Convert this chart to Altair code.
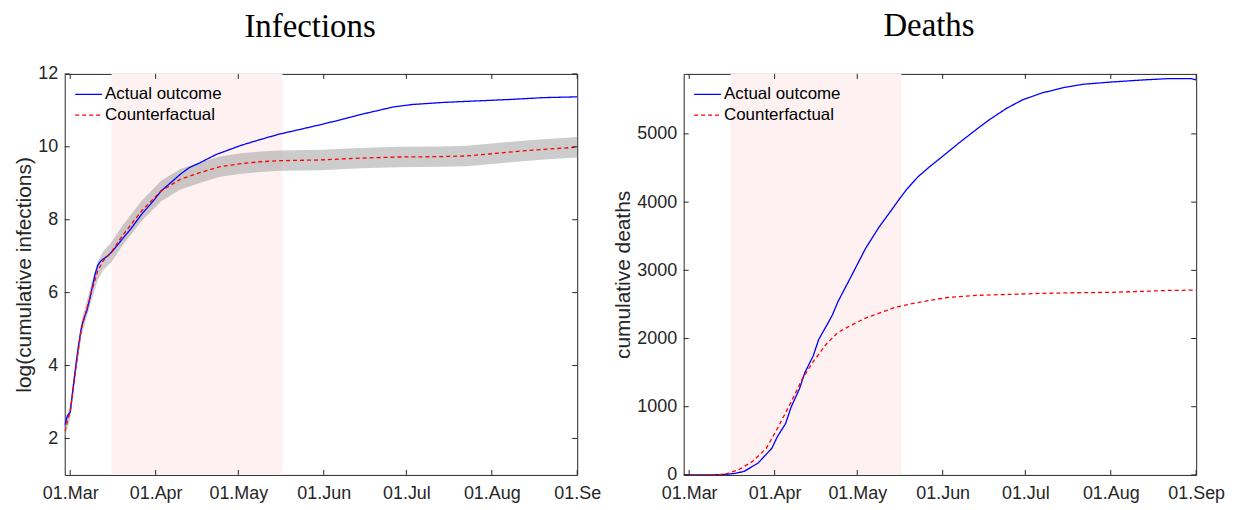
import altair as alt
import pandas as pd

# ---------------- data ----------------
# Infections panel: log(cumulative infections)
inf_actual_dates = ["2020-02-28", "2020-02-29", "2020-03-01", "2020-03-02", "2020-03-03", "2020-03-04",
                    "2020-03-05", "2020-03-06", "2020-03-07", "2020-03-08", "2020-03-09", "2020-03-10",
                    "2020-03-11", "2020-03-12", "2020-03-13", "2020-03-15", "2020-03-17", "2020-03-20",
                    "2020-03-23", "2020-03-27", "2020-03-31", "2020-04-03", "2020-04-07", "2020-04-10",
                    "2020-04-13", "2020-04-17", "2020-04-23", "2020-05-02", "2020-05-09", "2020-05-16",
                    "2020-05-23", "2020-05-31", "2020-06-07", "2020-06-14", "2020-06-21", "2020-06-26",
                    "2020-07-03", "2020-07-15", "2020-07-27", "2020-08-08", "2020-08-20", "2020-09-01"]
inf_actual_vals = [2.36, 2.63, 2.72, 3.35, 3.99, 4.55,
                   5.02, 5.30, 5.50, 5.80, 6.15, 6.50,
                   6.75, 6.86, 6.92, 7.03, 7.20, 7.48,
                   7.75, 8.16, 8.50, 8.79, 9.05, 9.25,
                   9.42, 9.56, 9.79, 10.04, 10.20, 10.35,
                   10.47, 10.61, 10.74, 10.88, 11.00, 11.09,
                   11.16, 11.22, 11.26, 11.30, 11.35, 11.37]

inf_cf_dates = ["2020-02-28", "2020-03-01", "2020-03-03", "2020-03-05", "2020-03-07", "2020-03-09",
                "2020-03-11", "2020-03-13", "2020-03-16", "2020-03-20", "2020-03-27", "2020-04-03",
                "2020-04-10", "2020-04-17", "2020-04-24", "2020-05-02", "2020-05-09", "2020-05-16",
                "2020-05-31", "2020-06-14", "2020-06-28", "2020-07-13", "2020-07-23", "2020-08-01",
                "2020-08-11", "2020-08-20", "2020-09-01"]
inf_cf_vals = [2.20, 2.75, 3.90, 5.00, 5.55, 6.10,
               6.60, 6.88, 7.12, 7.57, 8.25, 8.79,
               9.11, 9.29, 9.45, 9.54, 9.59, 9.62,
               9.64, 9.69, 9.72, 9.73, 9.75, 9.81,
               9.88, 9.93, 9.99]
inf_band_lo = [2.00, 2.55, 3.70, 4.80, 5.33, 5.86,
               6.35, 6.62, 6.85, 7.30, 7.97, 8.51,
               8.83, 9.01, 9.17, 9.26, 9.31, 9.34,
               9.36, 9.41, 9.44, 9.45, 9.47, 9.53,
               9.60, 9.65, 9.71]
inf_band_hi = [2.40, 2.95, 4.10, 5.20, 5.77, 6.34,
               6.85, 7.14, 7.39, 7.84, 8.53, 9.07,
               9.39, 9.57, 9.73, 9.82, 9.87, 9.90,
               9.92, 9.97, 10.00, 10.01, 10.03, 10.09,
               10.16, 10.21, 10.27]

# Deaths panel: cumulative deaths
dth_actual_dates = ["2020-02-28", "2020-03-10", "2020-03-15", "2020-03-18", "2020-03-21", "2020-03-26",
                    "2020-03-31", "2020-04-02", "2020-04-05", "2020-04-07", "2020-04-10", "2020-04-12",
                    "2020-04-15", "2020-04-17", "2020-04-20", "2020-04-22", "2020-04-24", "2020-04-29",
                    "2020-05-04", "2020-05-09", "2020-05-13", "2020-05-16", "2020-05-19", "2020-05-23",
                    "2020-05-27", "2020-05-31", "2020-06-07", "2020-06-14", "2020-06-18", "2020-06-24",
                    "2020-06-30", "2020-07-07", "2020-07-15", "2020-07-22", "2020-08-01", "2020-08-13",
                    "2020-08-22", "2020-08-30", "2020-09-01"]
dth_actual_vals = [0, 2, 10, 25, 53, 174,
                   391, 561, 754, 996, 1261, 1503,
                   1744, 1986, 2200, 2348, 2541, 2928,
                   3320, 3640, 3860, 4030, 4190, 4370,
                   4510, 4640, 4870, 5090, 5210, 5370,
                   5500, 5600, 5680, 5728, 5760, 5792,
                   5811, 5811, 5792]

dth_cf_dates = ["2020-02-28", "2020-03-10", "2020-03-14", "2020-03-19", "2020-03-24", "2020-03-29",
                "2020-04-02", "2020-04-07", "2020-04-11", "2020-04-15", "2020-04-20", "2020-04-24",
                "2020-04-29", "2020-05-04", "2020-05-09", "2020-05-15", "2020-05-22", "2020-06-02",
                "2020-06-13", "2020-06-25", "2020-07-07", "2020-07-19", "2020-07-31", "2020-08-12",
                "2020-08-22", "2020-09-01"]
dth_cf_vals = [0, 3, 10, 77, 198, 391,
               681, 1068, 1405, 1660, 1930, 2090,
               2200, 2300, 2372, 2460, 2520, 2598,
               2633, 2647, 2662, 2671, 2676, 2691,
               2705, 2710]

# shaded period
shade_start = ["2020-03-16"]
shade_end = ["2020-05-17"]

# tick positions
x_tick_dates = ["2020-03-01", "2020-04-01", "2020-05-01", "2020-06-01",
                "2020-07-01", "2020-08-01", "2020-09-01"]
inf_y_ticks = [2, 4, 6, 8, 10, 12]
dth_y_ticks = [0, 1000, 2000, 3000, 4000, 5000]

series_names = ["Actual outcome", "Counterfactual"]

# ---------------- styling ----------------
W, H = 515, 403
AX = "#262626"
SANS = "Liberation Sans"
TICKLEN = 5


def dt(s):
    y, m, d = (int(p) for p in s.split("-"))
    return alt.DateTime(year=y, month=m, date=d, utc=True)


x_scale = alt.Scale(type="utc", domain=[dt("2020-02-28"), dt("2020-09-01")], nice=False)


def x_axis(last_label):
    return alt.Axis(
        values=[dt(s) for s in x_tick_dates],
        labelExpr=("utcmonth(datum.value) == 8 ? '" + last_label + "' : utcFormat(datum.value, '%d.%b')"),
        title=None, grid=False, ticks=False, domain=False, labelFlush=False, labelOverlap=False,
        labelFont=SANS, labelFontSize=18, labelColor=AX, labelPadding=9.5,
    )


def y_axis(title, values):
    return alt.Axis(
        values=values, format="d", title=title, grid=False, ticks=False, domain=False,
        labelFlush=False, labelOverlap=False,
        labelFont=SANS, labelFontSize=18, labelColor=AX, labelPadding=7,
        titleFont=SANS, titleFontSize=21, titleColor=AX, titleFontWeight="normal", titlePadding=3,
    )


color_scale = alt.Scale(domain=series_names, range=["#0000ff", "#ff0000"])
dash_scale = alt.Scale(domain=series_names, range=[[1, 0], [4, 3]])
# a horizontal line symbol, 27px long, in a 13.5px legend slot
legend = alt.Legend(
    title=None, orient="none", legendX=15.5, legendY=12, symbolType="M-2,0L2,0", symbolSize=182,
    symbolStrokeWidth=1.3, labelFont=SANS, labelFontSize=17, labelColor="black",
    rowPadding=3, labelOffset=8, padding=0,
)


def panel(title, title_offset, act_dates, act_vals, cf_dates, cf_vals, ydomain, yticks, ytitle,
          last_label, band=None):
    X = alt.X("date:T", scale=x_scale, axis=x_axis(last_label))
    ysc = alt.Scale(domain=ydomain, nice=False, zero=False)
    Y = alt.Y("v:Q", scale=ysc, axis=y_axis(ytitle, yticks))

    shade_df = pd.DataFrame({"date": shade_start, "end": shade_end})
    shade = alt.Chart(shade_df).mark_rect(color="#fdf1f1").encode(x=X, x2="end:T")

    layers = [shade]
    if band is not None:
        lo, hi = band
        band_df = pd.DataFrame({"date": cf_dates, "v": lo, "hi": hi})
        layers.append(
            alt.Chart(band_df).mark_area(color="#999999", opacity=0.5, clip=True)
            .encode(x=X, y=Y, y2="hi:Q")
        )

    act_df = pd.DataFrame({"date": act_dates, "v": act_vals, "series": series_names[0]})
    cf_df = pd.DataFrame({"date": cf_dates, "v": cf_vals, "series": series_names[1]})
    for df in (act_df, cf_df):
        layers.append(
            alt.Chart(df).mark_line(strokeWidth=1.3, clip=True).encode(
                x=X, y=Y,
                color=alt.Color("series:N", scale=color_scale, legend=legend),
                strokeDash=alt.StrokeDash("series:N", scale=dash_scale, legend=legend),
            )
        )

    xt = pd.DataFrame({"date": x_tick_dates})
    yt = pd.DataFrame({"v": yticks})
    layers += [
        alt.Chart(xt).mark_rule(color=AX, strokeWidth=1).encode(x=X, y=alt.value(0), y2=alt.value(TICKLEN)),
        alt.Chart(xt).mark_rule(color=AX, strokeWidth=1).encode(x=X, y=alt.value(H), y2=alt.value(H - TICKLEN)),
        alt.Chart(yt).mark_rule(color=AX, strokeWidth=1).encode(y=Y, x=alt.value(0), x2=alt.value(TICKLEN)),
        alt.Chart(yt).mark_rule(color=AX, strokeWidth=1).encode(y=Y, x=alt.value(W), x2=alt.value(W - TICKLEN)),
    ]

    return alt.layer(*layers).properties(
        width=W, height=H,
        title=alt.TitleParams(title, font="Liberation Serif", fontSize=33, fontWeight="normal",
                              color="black", offset=title_offset, anchor="middle", frame="group",
                              dx=-11),
    )


left = panel("Infections", 21.5, inf_actual_dates, inf_actual_vals, inf_cf_dates, inf_cf_vals,
             [1, 12], inf_y_ticks, "log(cumulative infections)", "01.Se",
             band=(inf_band_lo, inf_band_hi))
right = panel("Deaths", 30.5, dth_actual_dates, dth_actual_vals, dth_cf_dates, dth_cf_vals,
              [0, 5880], dth_y_ticks, "cumulative deaths", "01.Sep")

chart = (
    alt.hconcat(left, right, spacing=10)
    .resolve_scale(color="independent", strokeDash="independent")
    .resolve_legend(color="independent", strokeDash="independent")
    .configure_view(stroke=AX, strokeWidth=1)
    .properties(padding={"left": 5, "top": 0, "right": 5, "bottom": 0}, background="white")
)

chart.save("out.html", embed_options={"renderer": "svg", "actions": False})
